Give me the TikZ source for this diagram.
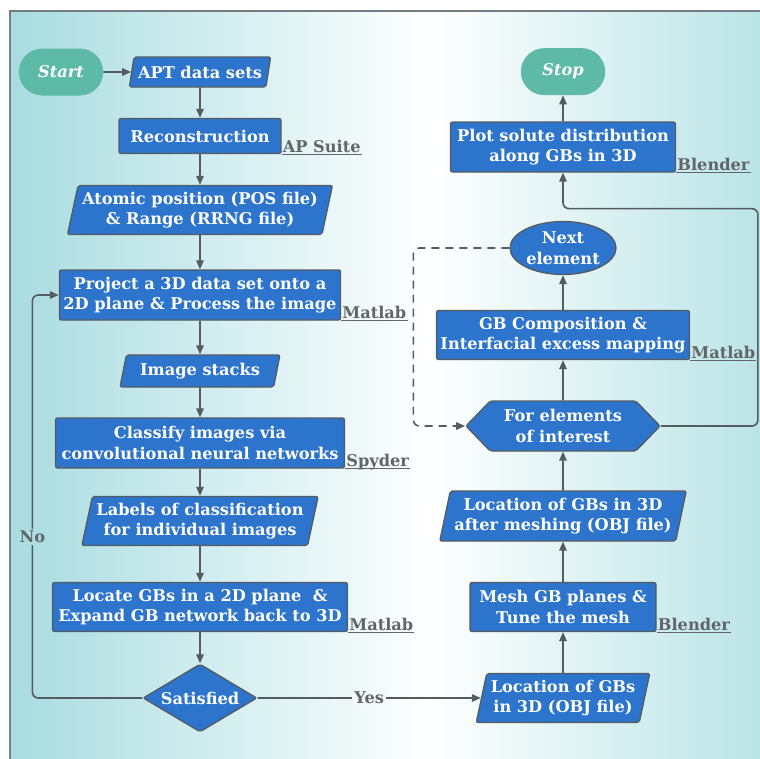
\documentclass[tikz,border=0pt]{standalone}
\usepackage{fontspec}
\setmainfont{DejaVu Serif}
\usetikzlibrary{arrows.meta,positioning,shapes.geometric,shapes.misc,shapes.symbols}

\definecolor{boxblue}{RGB}{45,116,204}
\definecolor{termgreen}{RGB}{92,186,166}
\definecolor{edgegray}{RGB}{84,92,96}
\definecolor{toolgray}{RGB}{98,102,105}
\definecolor{bgteal}{RGB}{168,220,224}

\begin{document}
\begin{tikzpicture}[
  x=1pt, y=-1pt,
  font=\fontsize{16.2}{20.5}\selectfont\bfseries,
  base/.style={draw=edgegray,line width=1.3pt,fill=boxblue,text=white,align=center,inner xsep=4pt,inner ysep=3pt,rounded corners=2pt},
  process/.style={base,rectangle},
  io/.style={base,trapezium,trapezium left angle=76,trapezium right angle=104,trapezium stretches=true},
  decision/.style={base,diamond,aspect=1.7,inner sep=0pt},
  loopbox/.style={base,signal,signal to=west and east,signal pointer angle=92},
  terminal/.style={rounded rectangle,fill=termgreen,text=white,font=\fontsize{16.2}{20.5}\selectfont\bfseries\itshape,minimum width=91pt,minimum height=47pt},
  tool/.style={anchor=base west,text=toolgray,inner sep=1pt},
  toolline/.style={draw=toolgray,line width=1pt},
  arrow/.style={draw=edgegray,line width=1.6pt,-{Triangle[length=9pt,width=7.5pt]}}
]
  \useasboundingbox (0,0) rectangle (760,758);
  \fill[white] (0,0) rectangle (760,758);
  \begin{scope}
    \clip (10,11) rectangle (760,758);
    \shade[left color=bgteal,right color=bgteal,middle color=white] (10,11) rectangle (850,758);
  \end{scope}
  \draw[edgegray!80,line width=1.2pt] (10,770) -- (10,11) -- (770,11);

  % left column
  \node[terminal] (start) at (61,72) {Start};
  \node[io,minimum width=140pt,minimum height=30pt] (apt) at (200,72) {APT data sets};
  \node[process,minimum width=162pt,minimum height=35pt] (recon) at (200,136) {Reconstruction};
  \node[io,minimum width=258pt,minimum height=49pt] (atomic) at (200,210) {Atomic position (POS file)\\\& Range (RRNG file)};
  \node[process,minimum width=279pt,minimum height=50pt] (project) at (200,295) {Project a 3D data set onto a\\2D plane \& Process the image};
  \node[io,minimum width=160pt,minimum height=32pt] (stacks) at (200,371) {Image stacks};
  \node[process,minimum width=289pt,minimum height=50pt] (classify) at (200,443) {Classify images via\\convolutional neural networks};
  \node[io,minimum width=234pt,minimum height=49pt] (labels) at (200,521) {Labels of classification\\for individual images};
  \node[process,minimum width=295pt,minimum height=49pt] (locate) at (200,607) {Locate GBs in a 2D plane \ \&\\Expand GB network back to 3D};
  \node[decision,minimum width=114pt,minimum height=68pt] (satisfied) at (200,698) {Satisfied};

  \draw[arrow] (start) -- (apt);
  \draw[arrow] (apt) -- (recon);
  \draw[arrow] (recon) -- (atomic);
  \draw[arrow] (atomic) -- (project);
  \draw[arrow] (project) -- (stacks);
  \draw[arrow] (stacks) -- (classify);
  \draw[arrow] (classify) -- (labels);
  \draw[arrow] (labels) -- (locate);
  \draw[arrow] (locate) -- (satisfied);

  % right column
  \node[io,minimum width=172pt,minimum height=49pt] (gbobj) at (563,698) {Location of GBs\\in 3D (OBJ file)};
  \node[process,minimum width=186pt,minimum height=49pt] (mesh) at (563,607) {Mesh GB planes \&\\Tune the mesh};
  \node[io,minimum width=241pt,minimum height=50pt] (meshobj) at (563,516) {Location of GBs in 3D\\after meshing (OBJ file)};
  \node[loopbox,minimum width=194pt,minimum height=50pt] (forelem) at (563,426) {For elements\\of interest};
  \node[process,minimum width=251pt,minimum height=49pt] (compo) at (563,335) {GB Composition \&\\Interfacial excess mapping};
  \node[base,ellipse,minimum width=106pt,minimum height=53pt,inner sep=0pt] (nextel) at (563,248) {Next\\element};
  \node[process,minimum width=225pt,minimum height=50pt] (plot) at (563,147) {Plot solute distribution\\along GBs in 3D};
  \node[terminal,above=26pt of plot] (stop) {Stop};

  \draw[arrow] (gbobj) -- (mesh);
  \draw[arrow] (mesh) -- (meshobj);
  \draw[arrow] (meshobj) -- (forelem);
  \draw[arrow] (forelem) -- (compo);
  \draw[arrow] (compo) -- (nextel);
  \draw[arrow] (plot) -- (stop);

  % software used
  \node[tool] (apsuite) at ([yshift=2pt]recon.south east) {AP Suite};
  \draw[toolline] (recon.south east) -- (recon.south east -| apsuite.east);
  \node[tool] (matlab1) at ([yshift=2pt]project.south east) {Matlab};
  \draw[toolline] (project.south east) -- (project.south east -| matlab1.east);
  \node[tool] (spyder) at ([yshift=2pt]classify.south east) {Spyder};
  \draw[toolline] (classify.south east) -- (classify.south east -| spyder.east);
  \node[tool] (matlab2) at ([yshift=2pt]locate.south east) {Matlab};
  \draw[toolline] (locate.south east) -- (locate.south east -| matlab2.east);
  \node[tool] (blender1) at ([yshift=2pt]mesh.south east) {Blender};
  \draw[toolline] (mesh.south east) -- (mesh.south east -| blender1.east);
  \node[tool] (matlab3) at ([yshift=2pt]compo.south east) {Matlab};
  \draw[toolline] (compo.south east) -- (compo.south east -| matlab3.east);
  \node[tool] (blender2) at ([yshift=2pt]plot.south east) {Blender};
  \draw[toolline] (plot.south east) -- (plot.south east -| blender2.east);

  % loops
  \draw[arrow,rounded corners=6pt] (satisfied.west) -- ++(-110,0) |- node[pos=0.2,fill=bgteal!95!white,text=toolgray,inner sep=2pt] {No} (project.west);
  \draw[arrow] (satisfied.east) -- node[fill=white!85!bgteal,text=toolgray,inner sep=2pt] {Yes} (gbobj.west);
  \draw[arrow,dash pattern=on 8pt off 6pt,rounded corners=6pt] (nextel.west) -- ++(-96,0) |- (forelem.west);
  \coordinate (merge) at ([yshift=-36pt]plot.south);
  \draw[arrow,rounded corners=6pt] (forelem.east) -- ++(97,0) |- (merge) -- (plot.south);
\end{tikzpicture}
\end{document}
